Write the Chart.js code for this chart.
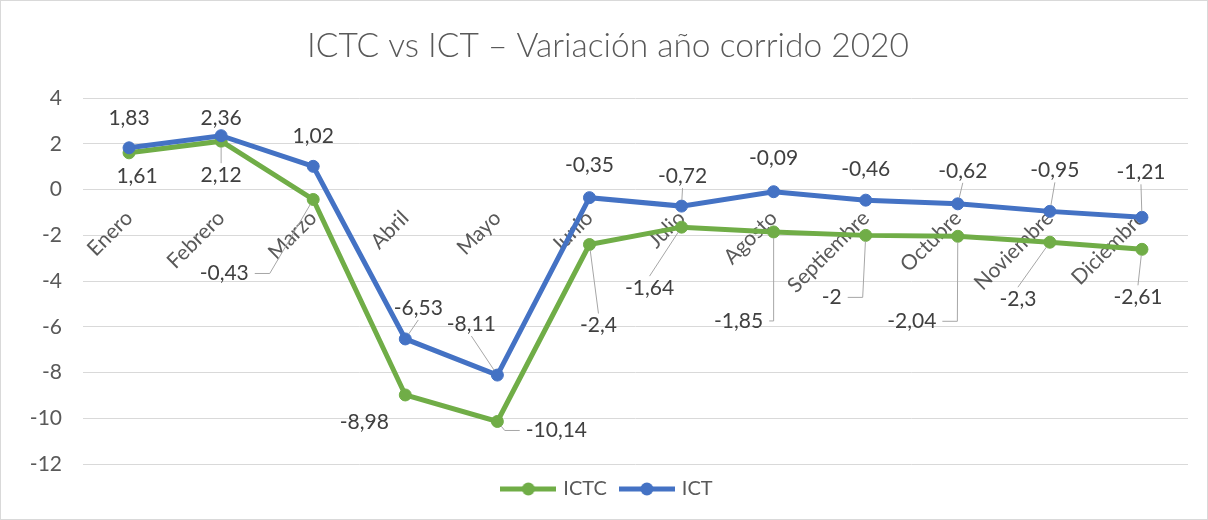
<!DOCTYPE html>
<html>
<head>
<meta charset="utf-8">
<script src="https://cdn.jsdelivr.net/npm/chart.js@4"></script>
<style>
  html, body { margin: 0; padding: 0; background: #fff; }
  #wrap { width: 1208px; height: 520px; box-sizing: border-box; border: 1px solid #d9d9d9; }
</style>
</head>
<body>
<div id="wrap"><canvas id="chart"></canvas></div>
<script>
// Data
const months = ['Enero', 'Febrero', 'Marzo', 'Abril', 'Mayo', 'Junio', 'Julio', 'Agosto', 'Septiembre', 'Octubre', 'Noviembre', 'Diciembre'];
const ictcValues = [1.61, 2.12, -0.43, -8.98, -10.14, -2.4, -1.64, -1.85, -2, -2.04, -2.3, -2.61];
const ictValues = [1.83, 2.36, 1.02, -6.53, -8.11, -0.35, -0.72, -0.09, -0.46, -0.62, -0.95, -1.21];

// Data label placement (offset of label centre from its point) and leader line kind
const ictcLabelOffsets = [[8, 23], [0, 34], [-89, 74], [-41, 27], [59, 9], [9, 81], [-32, 61], [-35, 89], [-34, 62], [-46, 85], [-32, 57], [-4, 48]];
const ictLabelOffsets = [[0, -30], [0, -17], [0, -30], [13, -31], [-26, -51], [0, -32], [1, -30], [0, -33], [0, -31], [5, -33], [5, -41], [-1, -45]];
const ictcLeaders = ['', 'line', 'elbow', '', 'elbow', 'line', 'line', 'elbow', 'elbow', 'elbow', 'line', 'line'];
const ictLeaders = ['', '', '', 'line', 'line', '', 'line', '', '', 'line', 'line', 'line'];

const GREEN = '#70ad47';
const BLUE = '#4472c4';
const FONT = 'Lato, "Open Sans", sans-serif';

const labelOffsets = [ictcLabelOffsets, ictLabelOffsets];
const leaders = [ictcLeaders, ictLeaders];

function legendIcon(color) {
    const c = document.createElement('canvas');
    c.width = 56;
    c.height = 14;
    const g = c.getContext('2d');
    g.strokeStyle = color;
    g.lineWidth = 5;
    g.beginPath();
    g.moveTo(0, 7);
    g.lineTo(56, 7);
    g.stroke();
    g.fillStyle = color;
    g.beginPath();
    g.arc(28, 7, 6.5, 0, Math.PI * 2);
    g.fill();
    return c;
}
const legendIcons = [legendIcon(GREEN), legendIcon(BLUE)];

function drawLeader(ctx, kind, px, py, lx, ly, w, h) {
    ctx.beginPath();
    if (kind === 'line') {
        const sy = ly < py ? ly + h / 2 + 3 : ly - h / 2 - 3;
        const vx = lx - px, vy = sy - py;
        const len = Math.hypot(vx, vy);
        if (len < 9) return;
        ctx.moveTo(lx, sy);
        ctx.lineTo(px + vx / len * 6, py + vy / len * 6);
    } else if (kind === 'elbow') {
        const onRight = lx < px;
        const sx = onRight ? lx + w / 2 + 6 : lx - w / 2 - 6;
        const mx = onRight ? Math.min(sx + 15, px) : Math.max(sx - 15, px);
        const vx = mx - px, vy = ly - py;
        const len = Math.hypot(vx, vy) || 1;
        ctx.moveTo(sx, ly);
        ctx.lineTo(mx, ly);
        ctx.lineTo(px + vx / len * 6, py + vy / len * 6);
    } else {
        return;
    }
    ctx.stroke();
}

// Data labels with leader lines, drawn over the lines
const dataLabels = {
    id: 'dataLabels',
    afterDatasetsDraw(chart) {
        const ctx = chart.ctx;
        ctx.save();
        ctx.font = '21px ' + FONT;
        ctx.textAlign = 'center';
        ctx.textBaseline = 'middle';
        ctx.strokeStyle = '#a6a6a6';
        ctx.lineWidth = 1;
        chart.data.datasets.forEach((ds, i) => {
            chart.getDatasetMeta(i).data.forEach((pt, j) => {
                const [dx, dy] = labelOffsets[i][j];
                const text = String(ds.data[j]).replace('.', ',');
                const lx = pt.x + dx, ly = pt.y + dy;
                const w = ctx.measureText(text).width;
                drawLeader(ctx, leaders[i][j], pt.x, pt.y, lx, ly, w, 18);
                ctx.fillStyle = '#404040';
                ctx.fillText(text, lx, ly);
            });
        });
        ctx.restore();
    }
};

new Chart(document.getElementById('chart').getContext('2d'), {
    type: 'line',
    data: {
        labels: months,
        datasets: [{
            label: 'ICTC',
            data: ictcValues,
            borderColor: GREEN,
            backgroundColor: GREEN,
            pointBackgroundColor: GREEN,
            pointBorderColor: GREEN,
            borderWidth: 5,
            pointRadius: 6,
            pointBorderWidth: 1,
            order: 1
        }, {
            label: 'ICT',
            data: ictValues,
            borderColor: BLUE,
            backgroundColor: BLUE,
            pointBackgroundColor: BLUE,
            pointBorderColor: BLUE,
            borderWidth: 5,
            pointRadius: 6,
            pointBorderWidth: 1,
            order: 0
        }]
    },
    options: {
        responsive: true,
        maintainAspectRatio: false,
        animation: false,
        layout: { padding: { left: 27, right: 19, bottom: 10 } },
        plugins: {
            tooltip: { enabled: false },
            title: {
                display: true,
                text: 'ICTC vs ICT – Variación año corrido 2020',
                color: '#595959',
                font: { family: FONT, size: 33.5, weight: '300' },
                padding: { top: 25, bottom: 32 }
            },
            legend: {
                position: 'bottom',
                labels: {
                    usePointStyle: true,
                    pointStyleWidth: 50,
                    color: '#595959',
                    font: { family: FONT, size: 20 },
                    padding: 15,
                    sort: (a, b) => a.datasetIndex - b.datasetIndex,
                    generateLabels(chart) {
                        const items = Chart.defaults.plugins.legend.labels.generateLabels(chart);
                        items.forEach(it => { it.pointStyle = legendIcons[it.datasetIndex]; });
                        return items;
                    }
                }
            }
        },
        scales: {
            x: {
                type: 'category',
                offset: true,
                position: { y: 0 },
                grid: { display: false, drawTicks: true, tickLength: 16 },
                border: { display: false },
                ticks: {
                    autoSkip: false,
                    minRotation: 45,
                    maxRotation: 45,
                    padding: 0,
                    color: '#595959',
                    font: { family: FONT, size: 21 }
                }
            },
            y: {
                min: -12,
                max: 4,
                grid: { color: '#d9d9d9', lineWidth: 1, drawTicks: false },
                border: { display: false },
                ticks: {
                    stepSize: 2,
                    padding: 21,
                    color: '#595959',
                    font: { family: FONT, size: 21 },
                    callback: value => String(value)
                },
                afterFit(scale) { scale.width = 55; }
            }
        }
    },
    plugins: [dataLabels]
});
</script>
</body>
</html>
